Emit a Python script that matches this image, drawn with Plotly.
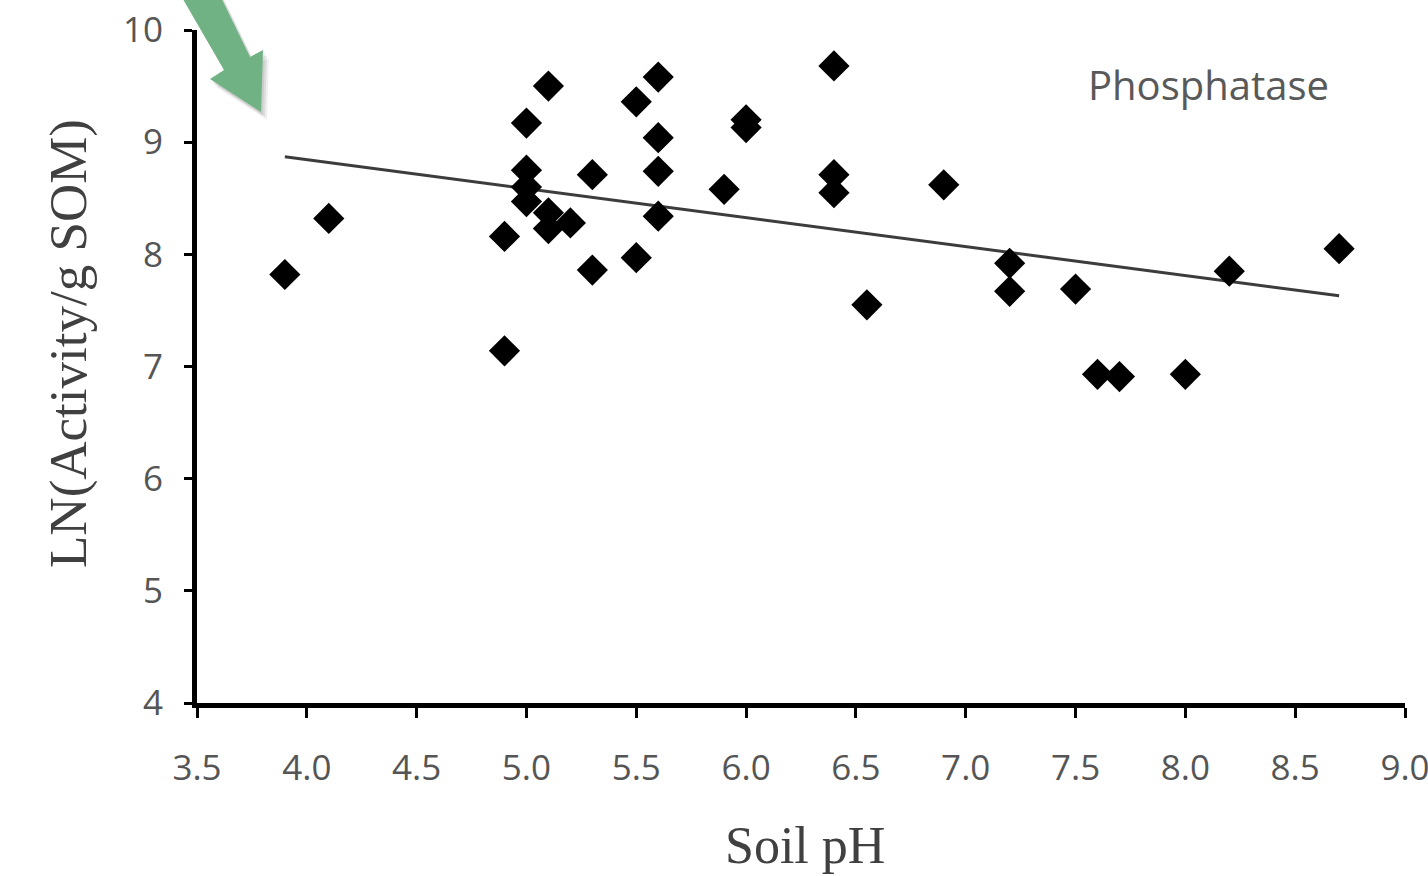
import plotly.graph_objects as go

# Data
soil_ph = [3.9, 4.1, 4.9, 4.9, 5.0, 5.0, 5.0, 5.0, 5.1, 5.1, 5.1, 5.2,
           5.3, 5.3, 5.5, 5.5, 5.6, 5.6, 5.6, 5.6, 5.9, 6.0, 6.0, 6.4,
           6.4, 6.4, 6.55, 6.9, 7.2, 7.2, 7.5, 7.6, 7.7, 8.0, 8.2, 8.7]
ln_activity = [7.82, 8.32, 8.16, 7.14, 9.17, 8.75, 8.60, 8.47, 9.50, 8.37, 8.23, 8.28,
               8.71, 7.86, 9.36, 7.97, 9.58, 9.04, 8.74, 8.34, 8.58, 9.20, 9.13, 9.68,
               8.71, 8.55, 7.55, 8.62, 7.92, 7.67, 7.69, 6.93, 6.91, 6.93, 7.85, 8.05]
trend_x = [3.9, 8.7]
trend_y = [8.87, 7.63]

x_ticks = [3.5, 4.0, 4.5, 5.0, 5.5, 6.0, 6.5, 7.0, 7.5, 8.0, 8.5, 9.0]
x_tick_labels = ["3.5", "4.0", "4.5", "5.0", "5.5", "6.0", "6.5", "7.0", "7.5", "8.0", "8.5", "9.0"]
y_ticks = [4, 5, 6, 7, 8, 9, 10]

W, H = 1428, 876
L, R, T, B = 197, 23, 30, 173
pw, ph = W - L - R, H - T - B

def px(xp):
    return (xp - L) / pw

def py(yp):
    return (H - B - yp) / ph

tick_font = dict(family="Open Sans, sans-serif", size=35, color="#555555")
serif = "Liberation Serif, Times New Roman, serif"

fig = go.Figure()
fig.add_trace(go.Scatter(x=trend_x, y=trend_y, mode="lines",
                         line=dict(color="#3c3c3c", width=3), showlegend=False))
fig.add_trace(go.Scatter(x=soil_ph, y=ln_activity, mode="markers",
                         marker=dict(symbol="diamond", size=24, color="black", line=dict(width=0)),
                         showlegend=False))

# decorative green arrow (top-left)
arrow_pts = [(212, -21), (250, 57), (263, 50), (261, 112), (210, 79), (224, 70), (180, -6)]
for dx, dy, col in [(6, 8, "rgba(0,0,0,0.06)"), (4, 5, "rgba(0,0,0,0.08)"), (2, 3, "rgba(0,0,0,0.08)")]:
    sp = "M " + " L ".join(f"{px(a+dx)},{py(b+dy)}" for a, b in arrow_pts) + " Z"
    fig.add_shape(type="path", path=sp, xref="paper", yref="paper",
                  fillcolor=col, line=dict(width=0), layer="above")
path = "M " + " L ".join(f"{px(a)},{py(b)}" for a, b in arrow_pts) + " Z"
fig.add_shape(type="path", path=path, xref="paper", yref="paper",
              fillcolor="#70b283", line=dict(width=0), layer="above")

fig.add_annotation(text="Phosphatase", x=px(1208), y=py(84), xref="paper", yref="paper",
                   showarrow=False, xanchor="center", yanchor="middle",
                   font=dict(family="Open Sans, sans-serif", size=40, color="#595959"))
fig.add_annotation(text="LN(Activity/g SOM)", x=px(68), y=py(344), xref="paper", yref="paper",
                   showarrow=False, textangle=-90, xanchor="center", yanchor="middle",
                   font=dict(family=serif, size=53, color="#404040"))
fig.add_annotation(text="Soil pH", x=px(805), y=py(846), xref="paper", yref="paper",
                   showarrow=False, xanchor="center", yanchor="middle",
                   font=dict(family=serif, size=52, color="#404040"))

fig.update_layout(
    width=W, height=H,
    margin=dict(l=L, r=R, t=T, b=B, pad=0, autoexpand=False),
    paper_bgcolor="white", plot_bgcolor="white",
    xaxis=dict(range=[3.5, 9.0], tickmode="array", tickvals=x_ticks, ticktext=x_tick_labels,
               showgrid=False, zeroline=False, showline=True, linecolor="black", linewidth=5,
               ticks="outside", ticklen=10, tickwidth=3, tickcolor="black", automargin=False,
               tickfont=tick_font, ticklabelstandoff=20, ticklabeloverflow="allow"),
    yaxis=dict(range=[4, 10], tickmode="array", tickvals=y_ticks,
               showgrid=False, zeroline=False, showline=True, linecolor="black", linewidth=5,
               ticks="outside", ticklen=8, tickwidth=3, tickcolor="black", automargin=False,
               tickfont=tick_font, ticklabelstandoff=14, ticklabeloverflow="allow"),
)

fig.write_html("out.html")
